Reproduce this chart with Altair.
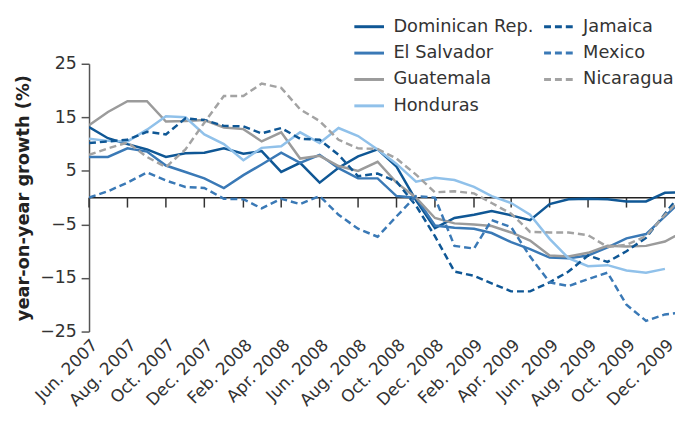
import altair as alt
import pandas as pd

# ---- data -------------------------------------------------------------
months = pd.date_range("2007-06-01", periods=32, freq="MS")
tick_labels_months = months[0:31:2]  # Jun. 2007 ... Dec. 2009

solid_countries = ["Dominican Rep.", "El Salvador", "Guatemala", "Honduras"]
dashed_countries = ["Jamaica", "Mexico", "Nicaragua"]

dominican = [13.2, 11.1, 10.0, 9.0, 7.6, 8.3, 8.4, 9.2, 8.2, 8.7, 4.8, 6.5,
             2.8, 5.6, 7.7, 9.0, 5.8, -0.5, -5.7, -3.8, -3.2, -2.5, -3.3, -4.2,
             -1.2, -0.3, -0.2, -0.3, -0.7, -0.7, 0.9, 1.0]
el_salvador = [7.6, 7.6, 9.2, 8.6, 6.0, 4.8, 3.6, 1.8, 4.2, 6.2, 8.4, 6.5,
               8.0, 5.5, 3.6, 3.6, 0.3, 0.0, -5.2, -5.6, -5.8, -6.6, -8.3, -9.6,
               -11.2, -11.3, -10.8, -9.3, -7.6, -6.8, -3.5, 0.0]
guatemala = [13.5, 16.0, 18.0, 18.0, 14.2, 14.3, 14.5, 13.1, 12.8, 10.5, 12.2, 7.3,
             7.8, 5.9, 5.0, 6.7, 2.8, 0.0, -3.8, -4.8, -5.0, -5.3, -6.5, -8.0,
             -10.8, -11.0, -10.3, -9.0, -9.1, -9.0, -8.2, -6.2]
honduras = [11.0, 10.6, 10.5, 12.7, 15.2, 15.0, 11.8, 10.0, 7.0, 9.3, 9.6, 12.2,
            10.2, 13.0, 11.5, 9.0, 6.3, 3.0, 3.7, 3.3, 2.0, 0.3, -1.0, -3.2,
            -7.7, -11.3, -12.8, -12.6, -13.6, -14.0, -13.3, None]
jamaica = [10.2, 10.5, 10.8, 12.3, 11.8, 14.8, 14.5, 13.4, 13.3, 12.0, 13.0, 11.0,
           10.8, 8.0, 4.0, 4.5, 3.0, -1.5, -7.2, -13.8, -14.6, -16.0, -17.5, -17.5,
           -15.8, -13.8, -10.8, -12.0, -10.0, -7.5, -3.0, 1.5]
mexico = [0.0, 1.2, 2.8, 4.7, 3.2, 2.0, 1.8, -0.2, -0.3, -2.0, -0.2, -1.2,
          0.3, -3.2, -5.8, -7.3, -3.5, 0.3, 0.0, -9.0, -9.5, -4.2, -5.5, -11.0,
          -15.8, -16.5, -15.2, -14.0, -20.0, -23.0, -21.8, -21.4]
nicaragua = [8.0, 9.2, 10.3, 7.6, 5.7, 9.0, 14.0, 19.0, 19.0, 21.3, 20.5, 16.5,
             14.3, 10.8, 9.2, 9.1, 7.3, 4.3, 1.0, 1.2, 0.8, -1.0, -3.0, -6.4,
             -6.5, -6.5, -7.0, -9.2, -8.8, -7.2, -3.2, 0.5]

series = {
    "Dominican Rep.": dominican,
    "El Salvador": el_salvador,
    "Guatemala": guatemala,
    "Honduras": honduras,
    "Jamaica": jamaica,
    "Mexico": mexico,
    "Nicaragua": nicaragua,
}

y_ticks = [-25, -15, -5, 5, 15, 25]

solid_colors = ["#0f5795", "#3a79b6", "#9b9b9b", "#90c1ea"]
dashed_colors = ["#0f5795", "#3a79b6", "#a3a3a3"]

# ---- build tables -----------------------------------------------------
rows = []
for name, vals in series.items():
    for d, v in zip(months, vals):
        if v is not None:
            rows.append({"date": d.strftime("%Y-%m-%dT00:00:00"), "country": name, "value": v})
df = pd.DataFrame(rows)
solid_df = df[df.country.isin(solid_countries)]
dashed_df = df[df.country.isin(dashed_countries)]

tick_df = pd.DataFrame({"date": [d.strftime("%Y-%m-%dT00:00:00") for d in tick_labels_months]})

FONT = "DejaVu Sans"

x_scale = alt.Scale(domain=[alt.DateTime(year=2007, month=6, date=1),
                            alt.DateTime(year=2009, month=12, date=17)])
y_scale = alt.Scale(domain=[-25, 25], nice=False)

x_axis = alt.Axis(
    values=[alt.DateTime(year=d.year, month=d.month, date=1) for d in tick_labels_months],
    format="%b. %Y", labelAngle=-45, labelFontSize=17, labelColor="#333",
    labelFont=FONT, domain=False, ticks=False, grid=False, title=None,
    labelPadding=5, labelOffset=0, labelOverlap=False, labelBound=False, labelFlush=False,
)
y_axis = alt.Axis(
    values=y_ticks, tickSize=8, domainColor="#555", tickColor="#555",
    domainWidth=1.5, tickWidth=1.5,
    labelFontSize=17.5, labelColor="#333", labelFont=FONT, labelPadding=5,
    grid=False, title="year-on-year growth (%)", titleFont=FONT,
    titleFontSize=18, titleFontWeight="bold", titleColor="#222", titlePadding=7,
)

zero = alt.Chart(pd.DataFrame({"y": [0]})).mark_rule(color="#222", strokeWidth=1.5).encode(
    y=alt.Y("y:Q", scale=y_scale, axis=y_axis)
)

ticks = alt.Chart(tick_df).mark_rule(color="#333", strokeWidth=1.5, y2Offset=10).encode(
    x=alt.X("date:T", scale=x_scale, axis=x_axis),
    y=alt.datum(0),
    y2=alt.datum(0),
)

legend_common = dict(
    orient="none", symbolType="stroke", symbolSize=900, symbolStrokeWidth=3,
    labelFontSize=18, labelFont=FONT, labelColor="#333", labelOffset=8,
    rowPadding=0.7, padding=0, labelLimit=300,
)

solid = alt.Chart(solid_df).mark_line(strokeWidth=2.5, clip=True).encode(
    x=alt.X("date:T", scale=x_scale, axis=x_axis),
    y=alt.Y("value:Q", scale=y_scale, axis=y_axis),
    color=alt.Color("country:N",
                    scale=alt.Scale(domain=solid_countries, range=solid_colors),
                    legend=alt.Legend(title=None, legendX=267, legendY=-54, **legend_common)),
)

dashed = alt.Chart(dashed_df).mark_line(strokeWidth=2.5, strokeDash=[7, 4], clip=True).encode(
    x=alt.X("date:T", scale=x_scale, axis=x_axis),
    y=alt.Y("value:Q", scale=y_scale, axis=y_axis),
    color=alt.Color("country:N",
                    scale=alt.Scale(domain=dashed_countries, range=dashed_colors),
                    legend=alt.Legend(title=None, legendX=459, legendY=-54,
                                      symbolDash=[7, 4], **legend_common)),
)

chart = alt.layer(zero, ticks, solid, dashed).resolve_scale(color="independent").properties(
    width=593, height=271,
    autosize=alt.AutoSizeParams(type="none"),
    padding={"left": 82, "top": 54, "right": 0, "bottom": 81},
).configure_view(stroke=None)

chart.save("out.html", embed_options={"renderer": "svg", "actions": False})
